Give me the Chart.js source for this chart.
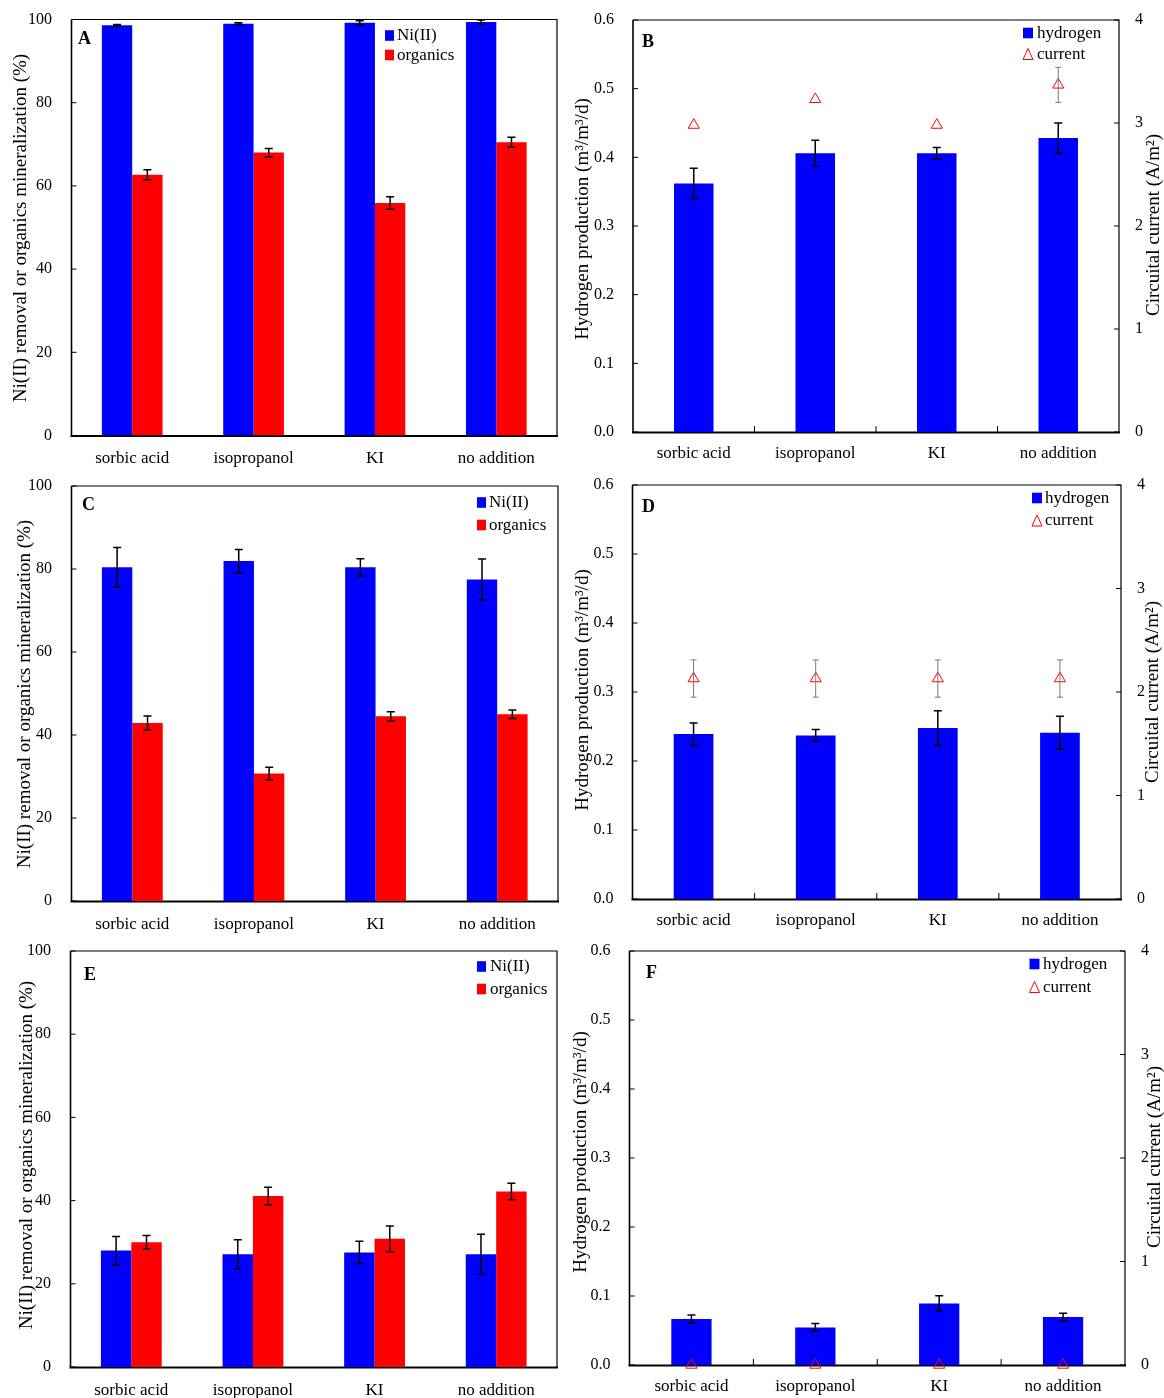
<!DOCTYPE html>
<html><head><meta charset="utf-8">
<script src="https://cdn.jsdelivr.net/npm/chart.js@4.4.1/dist/chart.umd.min.js"></script>
<style>
html,body{margin:0;padding:0;background:#fff;}
body{width:1164px;height:1398px;position:relative;overflow:hidden;}
canvas{position:absolute;}
</style></head><body>
<canvas id="cA" width="580" height="470" style="left:0;top:0"></canvas>
<canvas id="cB" width="594" height="470" style="left:570px;top:0"></canvas>
<canvas id="cC" width="580" height="470" style="left:0;top:470px"></canvas>
<canvas id="cD" width="594" height="470" style="left:570px;top:470px"></canvas>
<canvas id="cE" width="580" height="468" style="left:0;top:930px"></canvas>
<canvas id="cF" width="594" height="468" style="left:570px;top:930px"></canvas>
<script>
// ---------- data ----------
const categories = ['sorbic acid', 'isopropanol', 'KI', 'no addition'];
const pctTicks = [0, 20, 40, 60, 80, 100];
const h2Ticks = [0.0, 0.1, 0.2, 0.3, 0.4, 0.5, 0.6];
const curTicks = [0, 1, 2, 3, 4];

const niA = [98.6, 99.0, 99.2, 99.4];
const niAErr = [0.2, 0.2, 0.5, 0.5];
const orgA = [62.7, 68.0, 55.9, 70.5];
const orgAErr = [1.2, 1.0, 1.5, 1.2];

const h2B = [0.362, 0.406, 0.406, 0.428];
const h2BErr = [0.022, 0.019, 0.0085, 0.022];
const curB = [2.98, 3.23, 2.98, 3.37];
const curBErr = [0, 0, 0, 0.17];

const niC = [80.4, 81.9, 80.4, 77.5];
const niCErr = [4.8, 2.8, 2.1, 4.9];
const orgC = [42.9, 30.7, 44.5, 45.0];
const orgCErr = [1.7, 1.5, 1.1, 1.0];

const h2D = [0.239, 0.237, 0.248, 0.241];
const h2DErr = [0.016, 0.0085, 0.025, 0.024];
const curD = [2.13, 2.13, 2.13, 2.13];
const curDErr = [0.18, 0.18, 0.18, 0.18];

const niE = [28.0, 27.1, 27.5, 27.1];
const niEErr = [3.4, 3.5, 2.7, 4.8];
const orgE = [30.0, 41.1, 30.8, 42.2];
const orgEErr = [1.6, 2.1, 3.1, 2.0];

const h2F = [0.0666, 0.0545, 0.0892, 0.0695];
const h2FErr = [0.006, 0.0055, 0.011, 0.0055];
const curF = [0, 0, 0, 0];
const curFErr = [0, 0, 0, 0];

const pctTitle = 'Ni(II) removal or organics mineralization (%)';
const h2Title = 'Hydrogen production (m³/m³/d)';
const curTitle = 'Circuital current (A/m²)';

// ---------- styling ----------
const FONT = '"Liberation Serif","Times New Roman",serif';
Chart.defaults.font.family = FONT;
Chart.defaults.color = '#000';
const BLUE = '#0000ff', RED = '#ff0000';

const errorBars = {
  id: 'errorBars',
  afterDatasetsDraw(chart) {
    const ctx = chart.ctx;
    chart.data.datasets.forEach((ds, i) => {
      if (!ds.errors) return;
      const meta = chart.getDatasetMeta(i);
      const sc = chart.scales[ds.yAxisID || 'y'];
      ctx.save();
      ctx.strokeStyle = ds.errColor || '#000';
      ctx.lineWidth = ds.errWidth || 1.5;
      const cap = ds.capHalf || 4;
      meta.data.forEach((el, j) => {
        const e = ds.errors[j];
        if (!e) return;
        const v = ds.data[j];
        const x = el.x;
        const y1 = sc.getPixelForValue(v + e), y2 = sc.getPixelForValue(v - e);
        ctx.beginPath();
        ctx.moveTo(x, y1); ctx.lineTo(x, y2);
        ctx.moveTo(x - cap, y1); ctx.lineTo(x + cap, y1);
        ctx.moveTo(x - cap, y2); ctx.lineTo(x + cap, y2);
        ctx.stroke();
      });
      ctx.restore();
    });
  }
};

const decor = {
  id: 'decor',
  beforeDatasetsDraw(chart, args, o) {
    const ctx = chart.ctx, a = chart.chartArea;
    ctx.save();
    ctx.strokeStyle = '#000';
    // frame
    ctx.lineWidth = 1.2;
    ctx.beginPath();
    ctx.moveTo(a.left, a.top); ctx.lineTo(a.right, a.top); ctx.lineTo(a.right, a.bottom);
    ctx.stroke();
    ctx.lineWidth = 1.6;
    ctx.beginPath(); ctx.moveTo(a.left, a.top); ctx.lineTo(a.left, a.bottom); ctx.stroke();
    ctx.lineWidth = 2;
    ctx.beginPath(); ctx.moveTo(a.left - 1, a.bottom + 0.5); ctx.lineTo(a.right + 1, a.bottom + 0.5); ctx.stroke();
    // inward ticks
    ctx.lineWidth = 1;
    const y = chart.scales.y;
    ctx.beginPath();
    y.ticks.forEach(t => { const p = y.getPixelForValue(t.value); ctx.moveTo(a.left, p); ctx.lineTo(a.left + 5, p); });
    if (chart.scales.y2) {
      const y2 = chart.scales.y2;
      y2.ticks.forEach(t => { const p = y2.getPixelForValue(t.value); ctx.moveTo(a.right, p); ctx.lineTo(a.right - 5, p); });
    }
    if (o.xTicks) {
      const x = chart.scales.x;
      for (let i = 1; i < categories.length; i++) {
        const p = (x.getPixelForValue(i - 1) + x.getPixelForValue(i)) / 2;
        ctx.moveTo(p, a.bottom); ctx.lineTo(p, a.bottom - 6);
      }
    }
    ctx.stroke();
    ctx.restore();
  },
  afterDraw(chart, args, o) {
    const ctx = chart.ctx;
    const ox = o.ox, oy = o.oy;
    ctx.save();
    // titles
    ctx.fillStyle = '#000';
    ctx.font = '19px ' + FONT;
    ctx.textAlign = 'center'; ctx.textBaseline = 'middle';
    o.titles.forEach(t => {
      ctx.save();
      ctx.translate(t.cx - ox, t.cy - oy);
      ctx.rotate(-Math.PI / 2);
      ctx.fillText(t.text, 0, 0);
      ctx.restore();
    });
    // panel letter
    ctx.font = 'bold 18px ' + FONT;
    ctx.textAlign = 'left';
    ctx.fillText(o.letter.text, o.letter.x - ox, o.letter.cy - oy);
    // legend
    const L = o.legend;
    ctx.font = '17px ' + FONT;
    chart.data.datasets.forEach((ds, i) => {
      const cy = L.cy + i * L.dy - oy;
      const x = L.x - ox;
      if (ds.type === 'line') {
        ctx.strokeStyle = RED; ctx.lineWidth = 1;
        ctx.beginPath();
        ctx.moveTo(x, cy + 5.5); ctx.lineTo(x + 5, cy - 5.5); ctx.lineTo(x + 10, cy + 5.5); ctx.closePath();
        ctx.stroke();
      } else {
        ctx.fillStyle = ds.backgroundColor;
        ctx.fillRect(x, cy - 5.3, L.w, 10.6);
      }
      ctx.fillStyle = '#000';
      ctx.fillText(ds.label, L.tx - ox, cy + 0.5);
    });
    ctx.restore();
  }
};

function noPad(s) { s.paddingTop = 0; s.paddingBottom = 0; s.paddingLeft = 0; s.paddingRight = 0; }

function yScale(ticksArr, fmt, width, pos, pad) {
  return {
    type: 'linear', position: pos, min: ticksArr[0], max: ticksArr[ticksArr.length - 1],
    afterBuildTicks: s => { s.ticks = ticksArr.map(v => ({ value: v })); },
    ticks: { font: { size: 16 }, padding: pad, callback: fmt },
    grid: { display: false, drawTicks: false }, border: { display: false },
    afterFit: s => { s.width = width; noPad(s); }
  };
}
function xScale(height, pad) {
  return {
    type: 'category', offset: true,
    ticks: { font: { size: 17 }, padding: pad, autoSkip: false, maxRotation: 0 },
    grid: { display: false, drawTicks: false }, border: { display: false },
    afterFit: s => { s.height = height; noPad(s); }
  };
}

function pctPanel(id, ox, oy, w, h, area, ni, niErr, org, orgErr, deco) {
  new Chart(document.getElementById(id), {
    type: 'bar',
    data: {
      labels: categories,
      datasets: [
        { label: 'Ni(II)', data: ni, backgroundColor: BLUE, errors: niErr, categoryPercentage: 0.5, barPercentage: 1.0 },
        { label: 'organics', data: org, backgroundColor: RED, errors: orgErr, categoryPercentage: 0.5, barPercentage: 1.0 }
      ]
    },
    options: {
      responsive: false, animation: false, events: [],
      layout: { autoPadding: false, padding: { top: area.top - oy, right: w - (area.right - ox), left: 0, bottom: 0 } },
      scales: {
        x: xScale(h - (area.bottom - oy), 13),
        y: yScale(pctTicks, v => String(v), area.left - ox, 'left', 19.5)
      },
      plugins: { legend: { display: false }, tooltip: { enabled: false }, decor: Object.assign({ ox, oy }, deco) }
    },
    plugins: [errorBars, decor]
  });
}

function h2Panel(id, ox, oy, w, h, area, h2, h2Err, cur, curErr, deco) {
  new Chart(document.getElementById(id), {
    type: 'bar',
    data: {
      labels: categories,
      datasets: [
        { type: 'bar', label: 'hydrogen', data: h2, backgroundColor: BLUE, errors: h2Err, yAxisID: 'y',
          categoryPercentage: 1.0, barPercentage: 0.325, order: 2 },
        { type: 'line', label: 'current', data: cur, yAxisID: 'y2', showLine: false, pointStyle: 'triangle',
          pointRadius: 6.4, pointBorderColor: RED, pointBackgroundColor: 'rgba(255,255,255,0)', pointBorderWidth: 1,
          clip: false, errors: curErr, errColor: '#7a7a7a', errWidth: 1, capHalf: 3, order: 1 }
      ]
    },
    options: {
      responsive: false, animation: false, events: [],
      layout: { autoPadding: false, padding: { top: area.top - oy, right: 0, left: 0, bottom: 0 } },
      scales: {
        x: xScale(h - (area.bottom - oy), 11),
        y: yScale(h2Ticks, v => Number(v).toFixed(1), area.left - ox, 'left', 19),
        y2: yScale(curTicks, v => String(v), w - (area.right - ox), 'right', 16)
      },
      plugins: { legend: { display: false }, tooltip: { enabled: false }, decor: Object.assign({ ox, oy, xTicks: true }, deco) }
    },
    plugins: [errorBars, decor]
  });
}

pctPanel('cA', 0, 0, 580, 470, { left: 71.5, right: 557, top: 19.5, bottom: 435.5 }, niA, niAErr, orgA, orgAErr, {
  titles: [{ text: pctTitle, cx: 21, cy: 228 }],
  letter: { text: 'A', x: 78, cy: 39 },
  legend: { x: 385, cy: 35.5, dy: 19.5, w: 9, tx: 397 }
});
h2Panel('cB', 570, 0, 594, 470, { left: 633, right: 1119, top: 20, bottom: 432 }, h2B, h2BErr, curB, curBErr, {
  titles: [{ text: h2Title, cx: 583, cy: 219 }, { text: curTitle, cx: 1154, cy: 225 }],
  letter: { text: 'B', x: 642, cy: 42 },
  legend: { x: 1023, cy: 33, dy: 21, w: 10, tx: 1037 }
});
pctPanel('cC', 0, 470, 580, 470, { left: 71.5, right: 558, top: 486, bottom: 901 }, niC, niCErr, orgC, orgCErr, {
  titles: [{ text: pctTitle, cx: 25, cy: 694 }],
  letter: { text: 'C', x: 82, cy: 505 },
  legend: { x: 477, cy: 502.5, dy: 22.5, w: 9, tx: 489 }
});
h2Panel('cD', 570, 470, 594, 470, { left: 632.5, right: 1121, top: 485, bottom: 899 }, h2D, h2DErr, curD, curDErr, {
  titles: [{ text: h2Title, cx: 583, cy: 690 }, { text: curTitle, cx: 1153, cy: 692 }],
  letter: { text: 'D', x: 642, cy: 507 },
  legend: { x: 1032, cy: 498, dy: 22.5, w: 10, tx: 1045 }
});
pctPanel('cE', 0, 930, 580, 468, { left: 70.5, right: 557, top: 951, bottom: 1367 }, niE, niEErr, orgE, orgEErr, {
  titles: [{ text: pctTitle, cx: 27, cy: 1155 }],
  letter: { text: 'E', x: 84, cy: 975 },
  legend: { x: 477, cy: 966.5, dy: 22.5, w: 9, tx: 490 }
});
h2Panel('cF', 570, 930, 594, 468, { left: 629.5, right: 1125, top: 951, bottom: 1365 }, h2F, h2FErr, curF, curFErr, {
  titles: [{ text: h2Title, cx: 581, cy: 1152 }, { text: curTitle, cx: 1155, cy: 1157 }],
  letter: { text: 'F', x: 646, cy: 973 },
  legend: { x: 1029.5, cy: 964, dy: 23, w: 10, tx: 1043 }
});
</script>
</body></html>
